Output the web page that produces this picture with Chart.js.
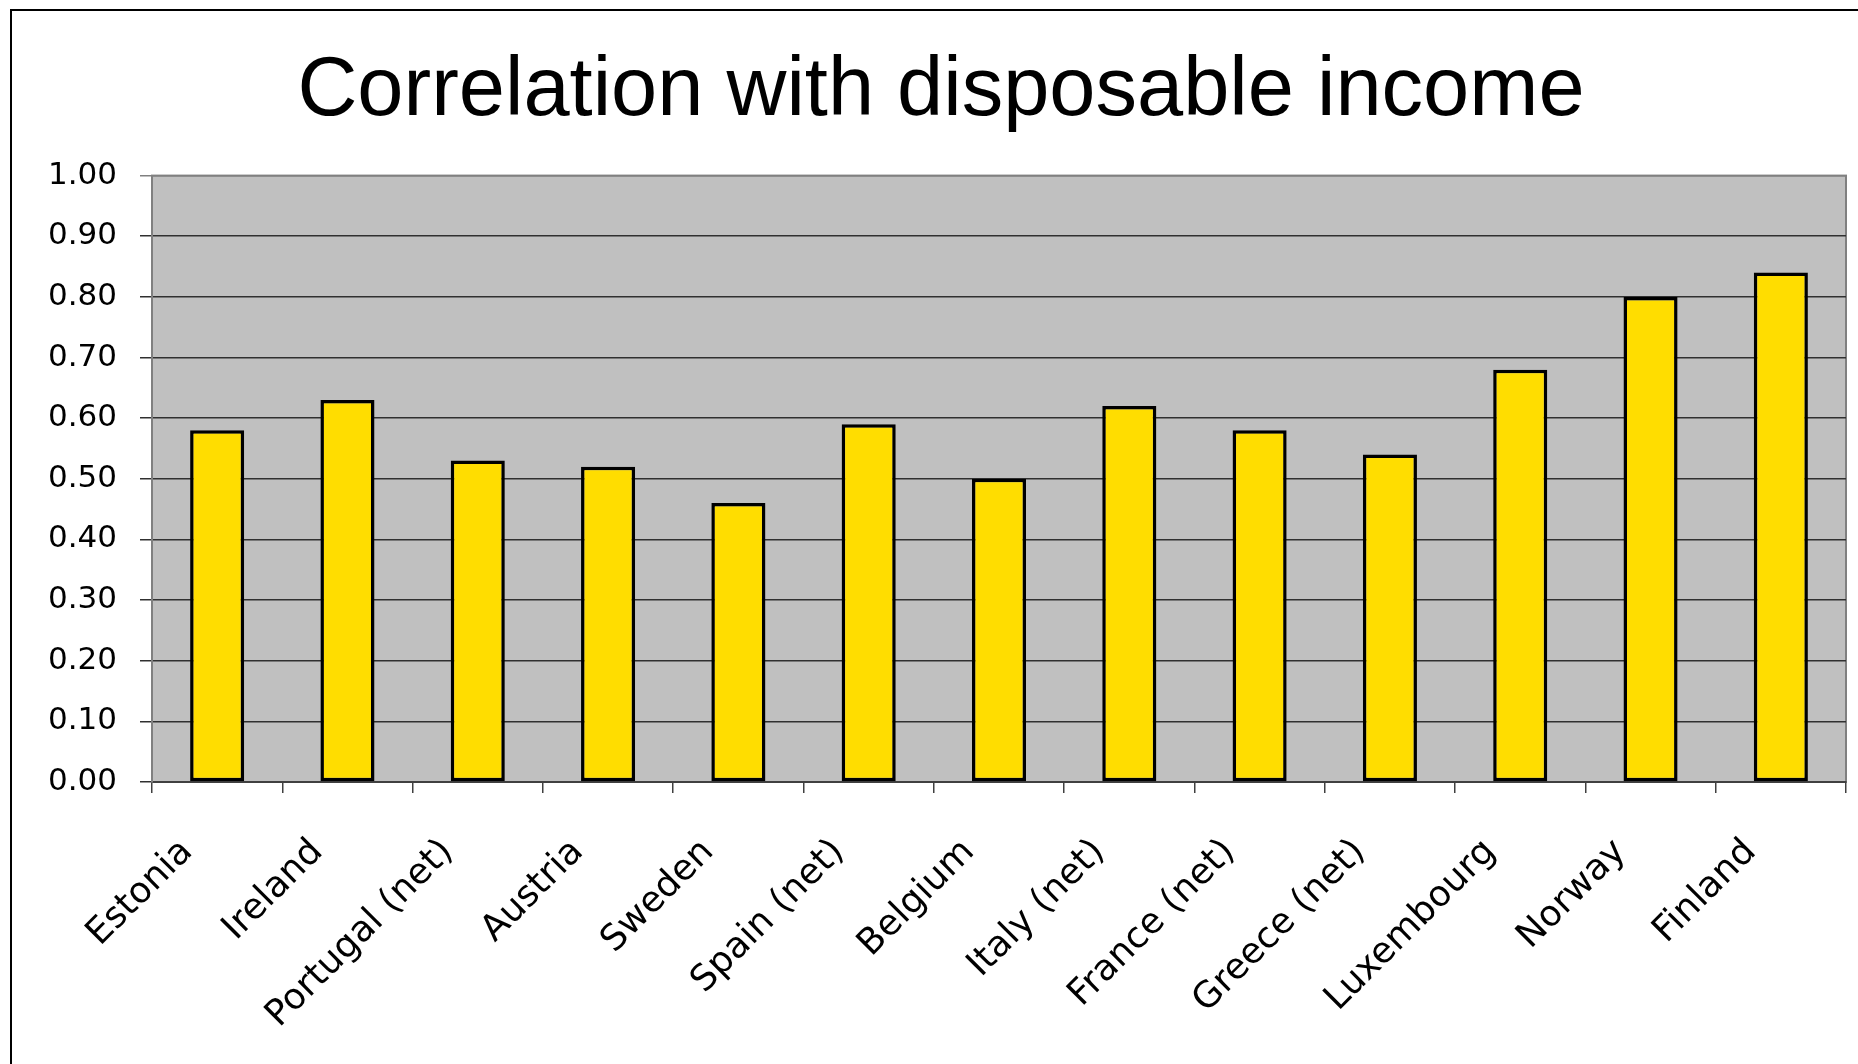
<!DOCTYPE html>
<html>
<head>
<meta charset="utf-8">
<title>Correlation with disposable income</title>
<script src="https://cdn.jsdelivr.net/npm/chart.js@4.4.1/dist/chart.umd.min.js"></script>
<style>
  html, body { margin: 0; padding: 0; background: #ffffff; }
  #wrap { position: relative; width: 1858px; height: 1064px; overflow: hidden; }
  #frame {
    position: absolute; left: 10px; top: 9px; width: 1900px; height: 1100px;
    border-left: 2px solid #000; border-top: 2px solid #000; pointer-events: none;
  }
</style>
</head>
<body>
<div id="wrap">
  <canvas id="chart"></canvas>
  <div id="frame"></div>
</div>
<script>
// Countries in display order
const countries = [
  'Estonia', 'Ireland', 'Portugal (net)', 'Austria', 'Sweden', 'Spain (net)',
  'Belgium', 'Italy (net)', 'France (net)', 'Greece (net)', 'Luxembourg',
  'Norway', 'Finland'
];

// Correlation coefficient with disposable income
const correlation = [
  0.58, 0.63, 0.53, 0.52, 0.46, 0.59,
  0.50, 0.62, 0.58, 0.54, 0.68,
  0.80, 0.84
];

// Value axis
const yMin = 0;
const yMax = 1;
const yStep = 0.1;

const chartTitle = 'Correlation with disposable income';

// Grey plot background and frame behind the bars
const plotBackground = {
  id: 'plotBackground',
  beforeDraw(chart) {
    const { ctx, chartArea: a } = chart;
    ctx.save();
    ctx.fillStyle = '#C0C0C0';
    ctx.fillRect(a.left, a.top, a.right - a.left, a.bottom - a.top);
    ctx.strokeStyle = '#808080';
    ctx.lineWidth = 2;
    ctx.strokeRect(a.left, a.top, a.right - a.left, a.bottom - a.top);
    ctx.restore();
  }
};

new Chart(document.getElementById('chart'), {
  type: 'bar',
  data: {
    labels: countries,
    datasets: [{
      data: correlation,
      backgroundColor: '#FFDD00',
      borderColor: '#000000',
      borderWidth: 3.5,
      borderSkipped: false,
      categoryPercentage: 1,
      barPercentage: 0.415
    }]
  },
  options: {
    responsive: true,
    maintainAspectRatio: false,
    animation: false,
    layout: { padding: { left: 36, right: 12, top: 0, bottom: 0 } },
    plugins: {
      legend: { display: false },
      tooltip: { enabled: false },
      title: {
        display: true,
        text: chartTitle,
        color: '#000000',
        font: { family: '"Liberation Sans", Arial, sans-serif', size: 83, weight: 'normal', lineHeight: 1.2 },
        padding: { top: 42, bottom: 34 }
      }
    },
    scales: {
      x: {
        offset: true,
        grid: {
          display: true,
          offset: true,
          drawOnChartArea: false,
          drawTicks: true,
          tickLength: 11,
          color: '#404040',
          lineWidth: 1.5
        },
        border: { display: true, color: '#404040', width: 2 },
        ticks: {
          autoSkip: false,
          minRotation: 45,
          maxRotation: 45,
          padding: 38,
          labelOffset: -30,
          color: '#000000',
          font: { family: '"DejaVu Sans", sans-serif', size: 36 }
        },
        afterFit(scale) { scale.height = 282; }
      },
      y: {
        min: yMin,
        max: yMax,
        grid: {
          color: (c) => (c.tick && c.tick.value === yMax ? '#808080' : '#303030'),
          lineWidth: 1.5,
          drawTicks: true,
          tickLength: 12
        },
        border: { display: true, color: '#808080', width: 2 },
        ticks: {
          stepSize: yStep,
          padding: 23,
          color: '#000000',
          font: { family: '"DejaVu Sans", sans-serif', size: 31 },
          callback: (v) => Number(v).toFixed(2)
        },
        afterFit(scale) { scale.width = 116; }
      }
    }
  },
  plugins: [plotBackground]
});
</script>
</body>
</html>
